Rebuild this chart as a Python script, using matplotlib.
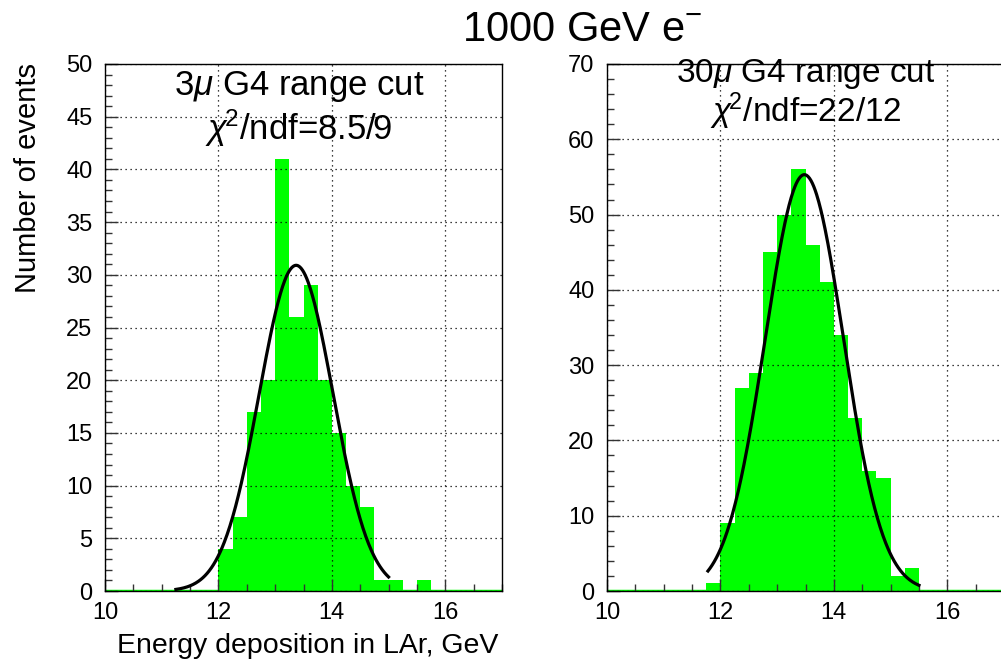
import numpy as np
import matplotlib
matplotlib.use("Agg")
import matplotlib.pyplot as plt
from matplotlib.ticker import MultipleLocator

plt.rcParams['font.family'] = ['Liberation Sans', 'DejaVu Sans']
plt.rcParams['mathtext.fontset'] = 'custom'
plt.rcParams['mathtext.rm'] = 'Liberation Sans'
plt.rcParams['mathtext.it'] = 'Liberation Sans:italic'

# ---- data ----
bin_edges_start = 10.0
bin_width = 0.25
n_bins = 28
counts_3mu = [0, 0, 0, 0, 0, 0, 0, 0,
              4, 7, 17, 20, 41, 26, 29, 20, 15, 10, 8, 1, 1, 0, 1,
              0, 0, 0, 0, 0]
counts_30mu = [0, 0, 0, 0, 0, 0, 0, 1,
               9, 27, 29, 45, 50, 56, 46, 41, 34, 23, 16, 15, 2, 3,
               0, 0, 0, 0, 0, 0]
# Gaussian fit parameters (amplitude, mean, sigma, range)
fit_3mu = dict(amp=30.9, mean=13.37, sigma=0.65, lo=11.25, hi=15.0)
fit_30mu = dict(amp=55.3, mean=13.48, sigma=0.69, lo=11.78, hi=15.5)
labels_3mu = [r"3$\mu$ G4 range cut", r"$\chi^{\!2}$/ndf=8.5/9"]
labels_30mu = [r"30$\mu$ G4 range cut", r"$\chi^{\!2}$/ndf=22/12"]
title = r"1000 GeV e$^{-}$"
xlabel = "Energy deposition in LAr, GeV"
ylabel = "Number of events"

W, H = 1001, 662
fig = plt.figure(figsize=(W / 100, H / 100), dpi=100)

def fx(px):
    return px / W

def fy(py):
    return 1 - py / H

edges = bin_edges_start + bin_width * np.arange(n_bins)
green = '#00ff00'

def panel(ax, counts, fit, ymax, ymaj, ymin_, texts, text_x, text_y, fs):
    ax.bar(edges, counts, width=bin_width, align='edge', color=green,
           linewidth=0, zorder=2)
    ax.axhline(0, color=green, lw=2.5, zorder=2.5)
    xs = np.linspace(fit['lo'], fit['hi'], 300)
    ys = fit['amp'] * np.exp(-0.5 * ((xs - fit['mean']) / fit['sigma']) ** 2)
    ax.plot(xs, ys, color='black', lw=2.3, zorder=3)
    ax.set_xlim(10, 17)
    ax.set_ylim(0, ymax)
    ax.xaxis.set_major_locator(MultipleLocator(2))
    ax.xaxis.set_minor_locator(MultipleLocator(0.5))
    ax.yaxis.set_major_locator(MultipleLocator(ymaj))
    ax.yaxis.set_minor_locator(MultipleLocator(ymin_))
    ax.grid(True, which='major', color='black', linestyle=(0, (1, 3)), lw=0.9,
            zorder=1)
    ax.tick_params(which='both', direction='in', top=False, right=False,
                   labelsize=17, width=1.0, color='#333333')
    ax.tick_params(which='major', length=9, pad=8)
    ax.tick_params(which='minor', length=5)
    ax.tick_params(axis='y', which='major', pad=9)
    for s in ax.spines.values():
        s.set_linewidth(1.0)
        s.set_zorder(4)
    ax.set_axisbelow(False)
    for t, yy in zip(texts, text_y):
        fig.text(fx(text_x), fy(yy), t, fontsize=fs, ha='center', va='center')

axL = fig.add_axes([fx(105), fy(591), fx(397), (591 - 64) / H])
panel(axL, counts_3mu, fit_3mu, 50, 5, 1, labels_3mu, 299, [86, 128], 25)

axR = fig.add_axes([fx(607), fy(591), fx(397), (591 - 64) / H])
panel(axR, counts_30mu, fit_30mu, 70, 10, 2, labels_30mu, 806, [74, 111], 24)

fig.text(fx(582), fy(30), title, fontsize=30, ha='center', va='center')
fig.text(fx(28), fy(63), ylabel, fontsize=21, rotation=90, ha='center', va='top')
fig.text(fx(498), fy(646), xlabel, fontsize=20.5, ha='right', va='center')

fig.savefig("out.png", dpi=100)
